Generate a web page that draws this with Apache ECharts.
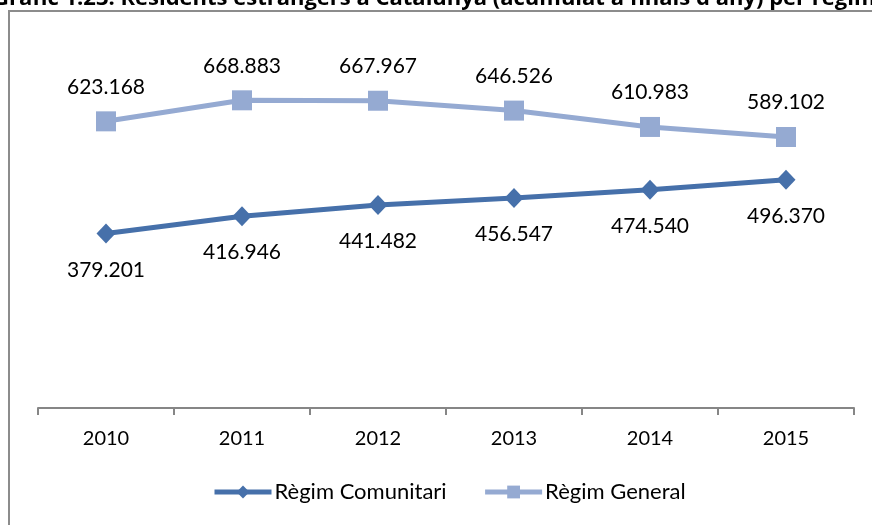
<!DOCTYPE html>
<html>
<head>
<meta charset="utf-8">
<script src="https://cdn.jsdelivr.net/npm/echarts@6/dist/echarts.min.js"></script>
<style>
  html, body { margin: 0; padding: 0; background: #fff; }
  #main { width: 872px; height: 525px; }
</style>
</head>
<body>
<div id="main"></div>
<script>
// dades
var anys = ['2010', '2011', '2012', '2013', '2014', '2015'];
var regimComunitari = [379201, 416946, 441482, 456547, 474540, 496370];
var regimGeneral = [623168, 668883, 667967, 646526, 610983, 589102];
var titol = "Gràfic 1.23. Residents estrangers a Catalunya (acumulat a finals d'any) per règim";

var font = 'Lato, "Open Sans", sans-serif';
var colComunitari = '#4670aa';
var colGeneral = '#95aad2';

// format amb punt de milers
function fmt(p) {
  return String(p.value).replace(/\B(?=(\d{3})+(?!\d))/g, '.');
}

var myChart = echarts.init(document.getElementById('main'));

var option = {
  backgroundColor: '#fff',
  animation: false,
  textStyle: { fontFamily: font },
  graphic: [
    {
      type: 'rect',
      shape: { x: 9, y: 11, width: 900, height: 600 },
      style: { fill: 'none', stroke: '#8c8c8c', lineWidth: 2 },
      z: -1
    },
    {
      type: 'text',
      style: {
        text: titol,
        x: -7, y: 10,
        fontFamily: '"Open Sans", sans-serif',
        fontSize: 22,
        fontWeight: 'bold',
        fill: '#000',
        verticalAlign: 'bottom'
      }
    }
  ],
  grid: {
    left: 38,
    right: 18,
    top: 40,
    bottom: 117
  },
  legend: {
    bottom: 17,
    left: 207,
    itemWidth: 57,
    itemHeight: 16,
    itemGap: 36,
    textStyle: { fontFamily: font, fontSize: 22, color: '#000', padding: [0, 0, 0, -2] },
    data: [
      { name: 'Règim Comunitari', lineStyle: { width: 5, color: colComunitari } },
      { name: 'Règim General', lineStyle: { width: 5, color: colGeneral } }
    ]
  },
  xAxis: {
    type: 'category',
    data: anys,
    boundaryGap: true,
    axisLine: { lineStyle: { color: '#868686', width: 2 } },
    axisTick: { show: true, alignWithLabel: false, interval: 0, length: 7, lineStyle: { color: '#868686', width: 2 } },
    axisLabel: { margin: 21, fontSize: 20, color: '#000', fontFamily: font }
  },
  yAxis: {
    type: 'value',
    min: 0,
    max: 800000,
    show: false,
    splitLine: { show: false }
  },
  series: [
    {
      name: 'Règim Comunitari',
      type: 'line',
      data: regimComunitari,
      symbol: 'diamond',
      symbolSize: [19, 20],
      itemStyle: { color: colComunitari },
      lineStyle: { color: colComunitari, width: 5 },
      label: {
        show: true,
        position: 'bottom',
        distance: 16,
        fontSize: 21,
        color: '#000',
        fontFamily: font,
        formatter: fmt
      }
    },
    {
      name: 'Règim General',
      type: 'line',
      data: regimGeneral,
      symbol: 'rect',
      symbolSize: 20,
      itemStyle: { color: colGeneral },
      lineStyle: { color: colGeneral, width: 5 },
      label: {
        show: true,
        position: 'top',
        distance: 14,
        fontSize: 21,
        color: '#000',
        fontFamily: font,
        formatter: fmt
      }
    }
  ]
};

myChart.setOption(option);
</script>
</body>
</html>
